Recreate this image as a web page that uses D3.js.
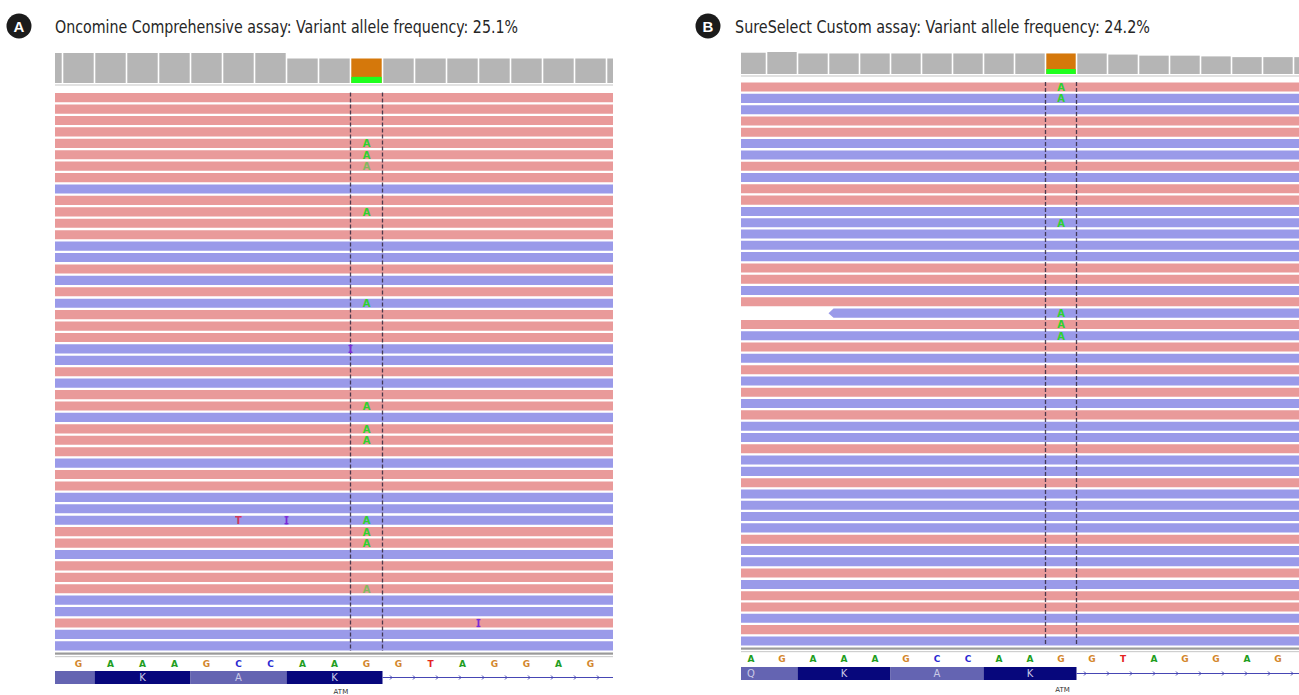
<!DOCTYPE html>
<html lang="en">
<head>
<meta charset="UTF-8">
<title>ATM variant reads: Oncomine vs SureSelect</title>
<style>
  body { margin: 0; background: #fff; }
  svg { display: block; }
  .title { font-family: "Liberation Sans Narrow", "DejaVu Sans Condensed", "Roboto", sans-serif; font-stretch: condensed; font-size: 18px; fill: #262626; }
  .badge { font-family: "Liberation Sans", Arial, sans-serif; font-weight: bold; font-size: 15px; fill: #fff; }
  .base { font-family: "DejaVu Sans", sans-serif; font-weight: bold; font-size: 9px; }
  .alt { font-family: "DejaVu Sans", sans-serif; font-weight: bold; font-size: 10px; }
  .aa { font-family: "DejaVu Sans", sans-serif; font-size: 10px; fill: #c9c9e6; }
  .gene { font-family: "DejaVu Sans", sans-serif; font-size: 7px; fill: #333; }
</style>
</head>
<body>
<svg id="chart" width="1299" height="695"></svg>
<script src="https://cdn.jsdelivr.net/npm/d3@7/dist/d3.min.js"></script>
<script>
// ---- data ----
const titleA = "Oncomine Comprehensive assay: Variant allele frequency: 25.1%";
const titleB = "SureSelect Custom assay: Variant allele frequency: 24.2%";
const vafA = 25.1;
const vafB = 24.2;

// reference sequence shown under each panel (base 0 onwards)
const refSeqA = ["G","A","A","A","G","C","C","A","A","G","G","T","A","G","G","A","G"];
const refSeqB = ["A","G","A","A","A","G","C","C","A","A","G","G","T","A","G","G","A","G"];
const variantA = 9;   // index of the G>A position
const variantB = 10;

// coverage depth per base, first value is base -1
const coverageA = [60,60,60,60,60,60,60,60,49,49,49,49,49,49,49,49,49,49,49];
const coverageB = [58,58,60,56,56,56,56,56,56,56,56,56,56,53,50,50,48,46,46,46];

// codons (first base index, amino acid)
const codonStartA = [-2, 1, 4, 7];
const codonAaA = ["", "K", "A", "K"];
const codonStartB = [-1, 2, 5, 8];
const codonAaB = ["Q", "K", "A", "K"];

// read strand per row, F = forward (red), R = reverse (blue)
const strandA = ["F","F","F","F","F","F","F","F","R","F","F","F","F","R","R","F","R","F","R","F",
                 "F","F","R","R","F","R","F","F","R","F","F","F","R","F","F","R","R","R","F","F",
                 "R","F","F","F","R","R","F","R","R"];
const strandB = ["F","R","R","F","F","R","R","F","R","F","F","R","R","R","R","R","F","F","R","F",
                 "R","F","R","F","R","F","R","F","R","F","R","R","F","R","R","F","R","R","R","R",
                 "F","R","R","F","R","F","F","R","F","R"];

// rows carrying the alternate A allele; faint = low base quality
const altRowsA = [4,5,6,10,18,27,29,30,37,38,39,43];
const altFaintA = [6,43];
const altRowsB = [0,1,12,20,21,22];
const altFaintB = [];

// other mismatches and insertions (insertion base = boundary index)
const mismatchA = [{row: 37, base: 5, letter: "T"}];
const insertionA = [{row: 22, base: 9}, {row: 37, base: 7}, {row: 46, base: 13}];
const mismatchB = [];
const insertionB = [];

// reads that start inside the window
const readStartA = [];
const readStartB = [{row: 20, base: 3}];

// ---- drawing ----
const svg = d3.select("#chart");
const defs = svg.append("defs");

const readColor = {F: "#e99a9a", R: "#9a9ae9"};
const baseColor = {A: "#1e9e1e", C: "#2a2ad2", G: "#d3862c", T: "#e5241e"};

function drawPanel(p) {
  const g = svg.append("g");
  const x = d3.scaleLinear().domain([0, 1]).range([p.x0, p.x0 + p.bw]);

  defs.append("clipPath").attr("id", "clip" + p.key)
    .append("rect").attr("x", p.left).attr("y", 0)
    .attr("width", p.right - p.left).attr("height", 695);
  const body = g.append("g").attr("clip-path", `url(#clip${p.key})`);

  // badge and title
  g.append("circle").attr("cx", p.badgeX).attr("cy", 26).attr("r", 12.5).attr("fill", "#1b1b1b");
  g.append("text").attr("class", "badge").attr("x", p.badgeX).attr("y", 31.5)
    .attr("text-anchor", "middle").text(p.key);
  g.append("text").attr("class", "title").attr("x", p.titleX).attr("y", 33)
    .attr("textLength", p.titleLen).attr("lengthAdjust", "spacingAndGlyphs").text(p.title);

  // coverage track
  const cov = p.coverage.map((d, i) => ({base: i - 1, depth: d}));
  const yc = d3.scaleLinear().domain([0, 60]).range([p.covBottom, p.covTop]);
  body.selectAll(null).data(cov).join("rect")
    .attr("x", d => x(d.base) + 0.8)
    .attr("width", p.bw - 1.6)
    .attr("y", d => yc(d.depth))
    .attr("height", d => p.covBottom - yc(d.depth))
    .attr("fill", d => d.base === p.variant ? "#d5780b" : "#b5b5b5");
  const vc = cov.find(d => d.base === p.variant);
  body.append("rect")
    .attr("x", x(p.variant) + 0.8).attr("width", p.bw - 1.6)
    .attr("y", yc(vc.depth * p.vaf / 100))
    .attr("height", p.covBottom - yc(vc.depth * p.vaf / 100))
    .attr("fill", "#1eff1e");
  body.append("rect").attr("x", p.left).attr("width", p.right - p.left)
    .attr("y", p.covBottom + 1).attr("height", 2).attr("fill", "#e2e2e2");

  // reads
  const yr = d3.scaleBand().domain(d3.range(p.strand.length))
    .range([p.readTop, p.readBottom]).paddingInner(0.2).paddingOuter(0.05);
  const starts = new Map(p.readStart.map(d => [d.row, d.base]));
  body.selectAll(null).data(p.strand.map((s, i) => ({row: i, strand: s})))
    .join("path")
    .attr("fill", d => readColor[d.strand])
    .attr("d", d => {
      const y0 = yr(d.row), h = yr.bandwidth();
      if (starts.has(d.row)) {
        const xs = x(starts.get(d.row));
        return `M${xs},${y0 + h / 2}L${xs + 5},${y0}L${p.right},${y0}L${p.right},${y0 + h}L${xs + 5},${y0 + h}Z`;
      }
      return `M${p.left},${y0}H${p.right}V${y0 + h}H${p.left}Z`;
    });

  // dashed guide lines around the variant
  body.selectAll(null).data([p.variant, p.variant + 1]).join("line")
    .attr("x1", d => x(d)).attr("x2", d => x(d))
    .attr("y1", p.readTop).attr("y2", p.readBottom)
    .attr("stroke", "#33293f").attr("stroke-width", 1.3)
    .attr("stroke-dasharray", "4 2").attr("opacity", 0.85);

  // alt alleles
  body.selectAll(null).data(p.altRows).join("text")
    .attr("class", "alt")
    .attr("x", x(p.variant + 0.5)).attr("y", d => yr(d) + yr.bandwidth() / 2 + 4)
    .attr("text-anchor", "middle")
    .attr("fill", "#2fd12f")
    .attr("opacity", d => p.altFaint.includes(d) ? 0.55 : 1)
    .text("A");

  body.selectAll(null).data(p.mismatch).join("text")
    .attr("class", "alt")
    .attr("x", d => x(d.base + 0.5)).attr("y", d => yr(d.row) + yr.bandwidth() / 2 + 4)
    .attr("text-anchor", "middle").attr("fill", "#d8284a").attr("opacity", 0.85)
    .text(d => d.letter);

  const ins = body.selectAll(null).data(p.insertion).join("g")
    .attr("transform", d => `translate(${x(d.base)},${yr(d.row)})`);
  ins.append("rect").attr("x", -0.9).attr("y", 0.5).attr("width", 1.8).attr("height", yr.bandwidth() - 1).attr("fill", "#7a2ad8");
  ins.append("rect").attr("x", -2).attr("y", 0.5).attr("width", 4).attr("height", 1.3).attr("fill", "#7a2ad8");
  ins.append("rect").attr("x", -2).attr("y", yr.bandwidth() - 1.8).attr("width", 4).attr("height", 1.3).attr("fill", "#7a2ad8");

  // separator under reads
  body.append("rect").attr("x", p.left).attr("width", p.right - p.left)
    .attr("y", p.readBottom + 1.5).attr("height", 2.2).attr("fill", "#9a9a9a");
  body.append("rect").attr("x", p.left).attr("width", p.right - p.left)
    .attr("y", p.readBottom + 5).attr("height", 1.2).attr("fill", "#cfcfcf");

  // reference sequence
  body.selectAll(null).data(p.seq.map((b, i) => ({base: i, letter: b}))).join("text")
    .attr("class", "base")
    .attr("x", d => x(d.base + 0.5)).attr("y", p.seqY)
    .attr("text-anchor", "middle")
    .attr("fill", d => baseColor[d.letter])
    .text(d => d.letter);

  // gene track: exon codons then intron line
  const codons = p.codonStart.map((s, i) => ({start: s, aa: p.codonAa[i], i}));
  body.selectAll(null).data(codons).join("rect")
    .attr("x", d => x(d.start)).attr("width", p.bw * 3)
    .attr("y", p.geneTop).attr("height", p.geneBottom - p.geneTop)
    .attr("fill", d => d.i % 2 === 0 ? "#6464b2" : "#07077c");
  body.selectAll(null).data(codons).join("text")
    .attr("class", "aa")
    .attr("x", d => x(d.start + 1.5)).attr("y", (p.geneTop + p.geneBottom) / 2 + 3.5)
    .attr("text-anchor", "middle").text(d => d.aa);
  const exonEnd = x(p.variant + 1);
  const midY = (p.geneTop + p.geneBottom) / 2;
  body.append("line").attr("x1", exonEnd).attr("x2", p.right)
    .attr("y1", midY).attr("y2", midY).attr("stroke", "#4646b4").attr("stroke-width", 1);
  body.selectAll(null).data(d3.range(exonEnd + 9, p.right, 23)).join("path")
    .attr("d", d => `M${d - 1.5},${midY - 2}L${d + 0.5},${midY}L${d - 1.5},${midY + 2}`)
    .attr("fill", "none").attr("stroke", "#4646b4").attr("stroke-width", 1);

  g.append("text").attr("class", "gene").attr("x", x(p.geneLabelBase)).attr("y", p.geneLabelY)
    .attr("text-anchor", "middle").text("ATM");
}

drawPanel({
  key: "A", title: titleA, vaf: vafA, badgeX: 19, titleX: 55, titleLen: 463,
  x0: 62.5, bw: 32, left: 55, right: 613,
  covTop: 53, covBottom: 83, readTop: 92.5, readBottom: 651,
  seqY: 667, geneTop: 671, geneBottom: 684, geneLabelY: 693.5, geneLabelBase: 8.7,
  coverage: coverageA, variant: variantA, seq: refSeqA,
  codonStart: codonStartA, codonAa: codonAaA,
  strand: strandA, altRows: altRowsA, altFaint: altFaintA,
  mismatch: mismatchA, insertion: insertionA, readStart: readStartA
});

drawPanel({
  key: "B", title: titleB, vaf: vafB, badgeX: 708, titleX: 735, titleLen: 415,
  x0: 735.5, bw: 31, left: 741, right: 1299,
  covTop: 52, covBottom: 74, readTop: 82, readBottom: 646,
  seqY: 662, geneTop: 667, geneBottom: 680, geneLabelY: 692, geneLabelBase: 10.55,
  coverage: coverageB, variant: variantB, seq: refSeqB,
  codonStart: codonStartB, codonAa: codonAaB,
  strand: strandB, altRows: altRowsB, altFaint: altFaintB,
  mismatch: mismatchB, insertion: insertionB, readStart: readStartB
});
</script>
</body>
</html>
